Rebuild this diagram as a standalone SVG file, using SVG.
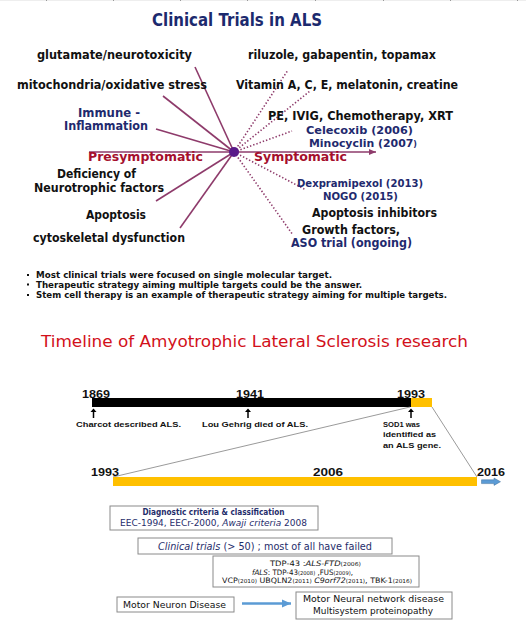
<svg xmlns="http://www.w3.org/2000/svg" width="526" height="643" viewBox="0 0 526 643">
<style>
.lbl{font-family:"DejaVu Sans","Verdana",sans-serif;font-weight:bold;font-size:12px;fill:#111}
.nv{fill:#1f2a6e}
.red{fill:#a50f2d;font-size:13px}
.sm{font-size:10.5px}
.md{font-size:11px}
.bul{font-family:"DejaVu Sans",sans-serif;font-weight:bold;font-size:8px;fill:#111}
.ttl{font-family:"DejaVu Sans",sans-serif;font-weight:bold;font-size:18px;fill:#1c2a6e}
.tl{font-family:"Liberation Sans",Arial,sans-serif;font-weight:bold;fill:#111}
.bx{fill:#fff;stroke:#8a8a8a;stroke-width:1}
.bt{font-family:"DejaVu Sans",sans-serif;fill:#1f2d6b}
.solid{stroke:#8e3b6b;stroke-width:1.6;fill:none}
.dot{stroke:#8e3b6b;stroke-width:1.6;stroke-dasharray:1.4 2;fill:none}
</style>
<defs>
<marker id="ah" markerWidth="8" markerHeight="8" refX="7" refY="4" orient="auto" markerUnits="userSpaceOnUse">
<path d="M0,1 L7,4 L0,7 z" fill="#8e3b6b"/>
</marker>
<marker id="bah" markerWidth="10" markerHeight="10" refX="9" refY="5" orient="auto" markerUnits="userSpaceOnUse">
<path d="M0,1 L9,5 L0,9 z" fill="#5b9bd5"/>
</marker>
</defs>
<rect x="0" y="0" width="526" height="643" fill="#fff"/>
<rect x="0" y="0" width="526" height="1" fill="#eeeeee"/>
<g fill="#999">
<rect x="46" y="0" width="1" height="1"/><rect x="113" y="0" width="1" height="1"/><rect x="180" y="0" width="1" height="1"/><rect x="247" y="0" width="1" height="1"/><rect x="315" y="0" width="1" height="1"/><rect x="383" y="0" width="1" height="1"/><rect x="450" y="0" width="1" height="1"/><rect x="517" y="0" width="1" height="1"/>
</g>

<text id="title1" class="ttl" x="152" y="26" textLength="170" lengthAdjust="spacingAndGlyphs">Clinical Trials in ALS</text>

<g id="connectors">
<line class="solid" x1="89" y1="152" x2="376" y2="152" marker-end="url(#ah)"/>
<line class="solid" x1="195" y1="67" x2="234" y2="152"/>
<line class="solid" x1="163" y1="96" x2="234" y2="152"/>
<line class="solid" x1="156" y1="129" x2="234" y2="152"/>
<line class="solid" x1="156" y1="201" x2="234" y2="152"/>
<line class="solid" x1="180" y1="228" x2="234" y2="152"/>
<line class="dot" x1="234" y1="152" x2="288" y2="70"/>
<line class="dot" x1="234" y1="152" x2="310" y2="91"/>
<line class="dot" x1="234" y1="152" x2="292" y2="131"/>
<line class="dot" x1="234" y1="152" x2="306" y2="190"/>
<line class="dot" x1="234" y1="152" x2="293" y2="235"/>
</g>
<circle id="center" cx="234" cy="152" r="5" fill="#5a1a8a"/>

<g id="causes">
<text class="lbl" x="37" y="59" textLength="155" lengthAdjust="spacingAndGlyphs">glutamate/neurotoxicity</text>
<text class="lbl" x="17" y="89" textLength="190" lengthAdjust="spacingAndGlyphs">mitochondria/oxidative stress</text>
<text class="lbl nv" x="78" y="117" textLength="62" lengthAdjust="spacingAndGlyphs">Immune -</text>
<text class="lbl nv" x="64" y="130" textLength="84" lengthAdjust="spacingAndGlyphs">Inflammation</text>
<text class="lbl" x="57" y="178" textLength="79" lengthAdjust="spacingAndGlyphs">Deficiency of</text>
<text class="lbl" x="34" y="192" textLength="130" lengthAdjust="spacingAndGlyphs">Neurotrophic factors</text>
<text class="lbl" x="86" y="219" textLength="60" lengthAdjust="spacingAndGlyphs">Apoptosis</text>
<text class="lbl" x="33" y="242" textLength="152" lengthAdjust="spacingAndGlyphs">cytoskeletal dysfunction</text>
</g>
<g id="phases">
<text class="lbl red" x="88" y="161" textLength="115" lengthAdjust="spacingAndGlyphs">Presymptomatic</text>
<text class="lbl red" x="254" y="161" textLength="93" lengthAdjust="spacingAndGlyphs">Symptomatic</text>
</g>
<g id="treatments">
<text class="lbl" x="248" y="59" textLength="188" lengthAdjust="spacingAndGlyphs">riluzole, gabapentin, topamax</text>
<text class="lbl" x="236" y="89" textLength="222" lengthAdjust="spacingAndGlyphs">Vitamin A, C, E, melatonin, creatine</text>
<text class="lbl" x="268" y="120" textLength="185" lengthAdjust="spacingAndGlyphs">PE, IVIG, Chemotherapy, XRT</text>
<text class="lbl nv md" x="306" y="134" textLength="107" lengthAdjust="spacingAndGlyphs">Celecoxib (2006)</text>
<text class="lbl nv md" x="309" y="147" textLength="108" lengthAdjust="spacingAndGlyphs">Minocyclin (2007<tspan font-size="8">)</tspan></text>
<text class="lbl nv sm" x="297" y="187" textLength="126" lengthAdjust="spacingAndGlyphs">Dexpramipexol  (2013)</text>
<text class="lbl nv sm" x="323" y="200" textLength="75" lengthAdjust="spacingAndGlyphs">NOGO (2015)</text>
<text class="lbl" x="312" y="217" textLength="125" lengthAdjust="spacingAndGlyphs">Apoptosis inhibitors</text>
<text class="lbl" x="302" y="234" textLength="98" lengthAdjust="spacingAndGlyphs">Growth factors,</text>
<text class="lbl nv" x="291" y="247" textLength="121" lengthAdjust="spacingAndGlyphs">ASO trial (ongoing)</text>
</g>

<g id="bullets">
<rect x="27" y="274" width="2" height="2" fill="#111"/>
<rect x="27" y="283.5" width="2" height="2" fill="#111"/>
<rect x="27" y="294" width="2" height="2" fill="#111"/>
<text class="bul" x="36" y="278" textLength="296" lengthAdjust="spacingAndGlyphs">Most clinical trials were  focused on single molecular target.</text>
<text class="bul" x="36" y="287.5" textLength="326" lengthAdjust="spacingAndGlyphs">Therapeutic strategy aiming multiple targets could be the answer.</text>
<text class="bul" x="36" y="297.5" textLength="411" lengthAdjust="spacingAndGlyphs">Stem cell therapy is an example of therapeutic strategy aiming for multiple targets.</text>
</g>

<text id="title2" x="41" y="347" font-family="DejaVu Sans,sans-serif" font-size="16" fill="#d2101a" textLength="427" lengthAdjust="spacingAndGlyphs">Timeline of Amyotrophic Lateral Sclerosis research</text>

<g id="timeline-top">
<rect x="92" y="398" width="319" height="9" fill="#000"/>
<rect x="411" y="398" width="21" height="9" fill="#ffc000"/>
<text class="tl" x="82" y="397.5" font-size="10" textLength="28" lengthAdjust="spacingAndGlyphs">1869</text>
<text class="tl" x="236" y="397.5" font-size="10" textLength="28" lengthAdjust="spacingAndGlyphs">1941</text>
<text class="tl" x="397" y="397.5" font-size="10" textLength="28" lengthAdjust="spacingAndGlyphs">1993</text>
<g stroke="#000" stroke-width="1.5" fill="#000">
<line x1="93.5" y1="418" x2="93.5" y2="411"/><path d="M90.5,412 L93.5,408.5 L96.5,412 z" stroke="none"/>
<line x1="248" y1="418" x2="248" y2="411"/><path d="M245,412 L248,408.5 L251,412 z" stroke="none"/>
<line x1="411" y1="418" x2="411" y2="411"/><path d="M408,412 L411,408.5 L414,412 z" stroke="none"/>
</g>
<text class="tl" x="76" y="426.5" font-size="7.5" textLength="105" lengthAdjust="spacingAndGlyphs">Charcot described ALS.</text>
<text class="tl" x="202" y="426.5" font-size="7.5" textLength="106" lengthAdjust="spacingAndGlyphs">Lou Gehrig died of ALS.</text>
<text class="tl" x="383" y="426.5" font-size="7.5" textLength="37" lengthAdjust="spacingAndGlyphs">SOD1 was</text>
<text class="tl" x="383" y="437" font-size="7.5" textLength="53" lengthAdjust="spacingAndGlyphs">identified as</text>
<text class="tl" x="383" y="447.5" font-size="7.5" textLength="58" lengthAdjust="spacingAndGlyphs">an ALS gene.</text>
</g>

<g id="zoom-lines" stroke="#808080" stroke-width="0.8">
<line x1="410" y1="407" x2="113" y2="477"/>
<line x1="432" y1="407" x2="477" y2="477"/>
</g>

<g id="timeline-bottom">
<rect x="113" y="477" width="364" height="9" fill="#ffc000"/>
<text class="tl" x="91" y="476" font-size="10" textLength="28" lengthAdjust="spacingAndGlyphs">1993</text>
<text class="tl" x="313" y="475.5" font-size="10" textLength="30" lengthAdjust="spacingAndGlyphs">2006</text>
<text class="tl" x="477" y="475.5" font-size="10" textLength="28" lengthAdjust="spacingAndGlyphs">2016</text>
<path d="M481.5,479.8 L494,479.8 L494,478 L500.5,481.7 L494,485.4 L494,483.6 L481.5,483.6 z" fill="#5b9bd5" stroke="#41719c" stroke-width="0.5"/>
</g>

<g id="box-diagnostic">
<rect class="bx" x="110" y="506" width="208" height="24"/>
<text class="bt" x="142.5" y="515" font-size="8" font-weight="bold" textLength="142" lengthAdjust="spacingAndGlyphs">Diagnostic criteria &amp; classification</text>
<text class="bt" x="120" y="525.5" font-size="8.5" textLength="187" lengthAdjust="spacingAndGlyphs">EEC-1994, EECr-2000, <tspan font-style="italic">Awaji criteria</tspan> 2008</text>
</g>

<g id="box-trials">
<rect class="bx" x="138" y="538" width="254" height="16"/>
<text class="bt" x="158" y="549.5" font-size="10" textLength="214" lengthAdjust="spacingAndGlyphs"><tspan font-style="italic">Clinical trials</tspan> (&gt; 50) ; most of all have failed</text>
</g>

<g id="box-genes">
<rect class="bx" x="213" y="556" width="206" height="31"/>
<text class="bt" x="270" y="566" font-size="7.5" style="fill:#111" textLength="91" lengthAdjust="spacingAndGlyphs">TDP-43 :<tspan font-style="italic">ALS-FTD</tspan><tspan font-size="5.5">(2006)</tspan></text>
<text class="bt" x="252" y="574.5" font-size="7.5" style="fill:#111" textLength="101" lengthAdjust="spacingAndGlyphs"><tspan font-style="italic">fALS</tspan>:  TDP-43<tspan font-size="5.5">(2008)</tspan> ,FUS<tspan font-size="5.5">(2009)</tspan>,</text>
<text class="bt" x="222" y="583" font-size="7.5" style="fill:#111" textLength="190" lengthAdjust="spacingAndGlyphs">VCP<tspan font-size="5.5">(2010)</tspan> UBQLN2<tspan font-size="5.5">(2011)</tspan>  <tspan font-style="italic">C9orf72</tspan><tspan font-size="5.5">(2011)</tspan>, TBK-1<tspan font-size="5.5">(2016)</tspan></text>
</g>

<g id="box-mnd">
<rect class="bx" x="117" y="597" width="117" height="15"/>
<text class="bt" x="123" y="607.5" font-size="8.5" style="fill:#111" textLength="103" lengthAdjust="spacingAndGlyphs">Motor Neuron Disease</text>
</g>

<g id="arrow-bottom">
<line x1="242" y1="603.5" x2="291" y2="603.5" stroke="#5b9bd5" stroke-width="2.5" marker-end="url(#bah)"/>
</g>

<g id="box-network">
<rect class="bx" x="296" y="592" width="156" height="27"/>
<text class="bt" x="303" y="602" font-size="8.5" style="fill:#111" textLength="141" lengthAdjust="spacingAndGlyphs">Motor Neural network disease</text>
<text class="bt" x="313" y="614" font-size="8.5" style="fill:#111" textLength="120" lengthAdjust="spacingAndGlyphs">Multisystem proteinopathy</text>
</g>
</svg>
